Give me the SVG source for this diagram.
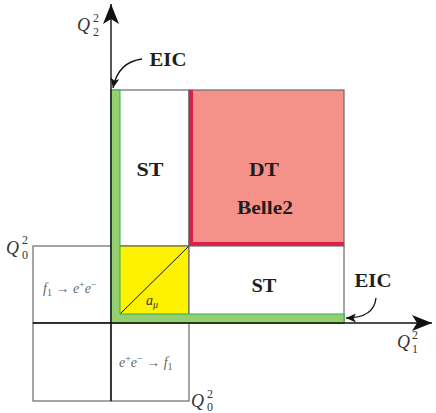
<svg xmlns="http://www.w3.org/2000/svg" width="436" height="413" viewBox="0 0 436 413">
<style>
.cell{fill:#ffffff;stroke:#6a6a6a;stroke-width:1.2}
.bold{font-family:"Liberation Serif",serif;font-weight:bold;font-size:19px;fill:#1e1e1e;text-anchor:middle}
.q{font-family:"Liberation Serif",serif;font-style:italic;font-size:18px;fill:#333}
.idx{font-family:"Liberation Serif",serif;font-size:12px;fill:#333}
.m{font-family:"Liberation Serif",serif;font-size:14px;fill:#666}
.it{font-style:italic}
.axis{stroke:#111;stroke-width:1.4;fill:none}
.curve{stroke:#111;stroke-width:1.3;fill:none}
</style>
<defs>
<marker id="big" markerUnits="userSpaceOnUse" markerWidth="20" markerHeight="16" refX="20" refY="8" orient="auto" viewBox="0 0 20 16">
<path d="M20,8 L0,0 L5,8 L0,16 Z" fill="#111"/>
</marker>
<marker id="small" markerUnits="userSpaceOnUse" markerWidth="10" markerHeight="9" refX="10" refY="4.5" orient="auto" viewBox="0 0 10 9">
<path d="M10,4.5 L0,0 L2.5,4.5 L0,9 Z" fill="#111"/>
</marker>
</defs>

<g id="cell-st-top">
<rect class="cell" x="111" y="90" width="78" height="156"/>
<text class="bold" x="150" y="176" textLength="27" lengthAdjust="spacingAndGlyphs">ST</text>
</g>
<g id="cell-dt">
<rect class="cell" x="189" y="90" width="155" height="156" style="fill:#f4928a"/>
<path d="M189,90 L193,90 L193,242 L344,242 L344,246 L189,246 Z" fill="#d8204c"/>
<text class="bold" x="264" y="176" textLength="30" lengthAdjust="spacingAndGlyphs">DT</text>
<text class="bold" x="265" y="214" textLength="56" lengthAdjust="spacingAndGlyphs">Belle2</text>
</g>
<g id="cell-amu">
<rect class="cell" x="111" y="246" width="78" height="77" style="fill:#fff200"/>
<line x1="120" y1="314" x2="189" y2="246" stroke="#111" stroke-width="1"/>
<text class="m" x="146" y="305" style="fill:#333"><tspan class="it">a</tspan><tspan class="it" font-size="10" dy="3">μ</tspan></text>
</g>
<g id="cell-st-bottom">
<rect class="cell" x="189" y="246" width="155" height="77"/>
<text class="bold" x="264" y="292" textLength="25" lengthAdjust="spacingAndGlyphs">ST</text>
</g>
<g id="cell-f1-ee">
<rect class="cell" x="33" y="246" width="78" height="77"/>
<text class="m" x="43" y="293"><tspan class="it">f</tspan><tspan font-size="10" dy="3">1</tspan><tspan dy="-3"> → </tspan><tspan class="it">e</tspan><tspan font-size="10" dy="-5">+</tspan><tspan class="it" dy="5">e</tspan><tspan font-size="10" dy="-5">−</tspan></text>
</g>
<g id="cell-empty">
<rect class="cell" x="33" y="323" width="78" height="78"/>
</g>
<g id="cell-ee-f1">
<rect class="cell" x="111" y="323" width="78" height="78"/>
<text class="m" x="119" y="367"><tspan class="it">e</tspan><tspan font-size="10" dy="-5">+</tspan><tspan class="it" dy="5">e</tspan><tspan font-size="10" dy="-5">−</tspan><tspan dy="5"> → </tspan><tspan class="it">f</tspan><tspan font-size="10" dy="3">1</tspan></text>
</g>
<g id="eic-band">
<path d="M111,90 L120,90 L120,314 L344,314 L344,323 L111,323 Z" fill="#95cf6f" stroke="#2fb050" stroke-width="1"/>
</g>
<g id="label-eic-top">
<text class="bold" x="168" y="66" textLength="37" lengthAdjust="spacingAndGlyphs">EIC</text>
</g>
<g id="label-eic-right">
<text class="bold" x="373" y="287" textLength="37" lengthAdjust="spacingAndGlyphs">EIC</text>
</g>
<g id="axis-labels">
<text x="77" y="31"><tspan class="q">Q</tspan></text>
<text class="idx" x="93" y="22">2</text>
<text class="idx" x="93" y="36">2</text>
<text x="397" y="348"><tspan class="q">Q</tspan></text>
<text class="idx" x="412" y="339">2</text>
<text class="idx" x="412" y="353">1</text>
<text x="191" y="407"><tspan class="q">Q</tspan></text>
<text class="idx" x="207" y="398">2</text>
<text class="idx" x="207" y="411">0</text>
<text x="6" y="254"><tspan class="q">Q</tspan></text>
<text class="idx" x="22" y="244">2</text>
<text class="idx" x="22" y="259">0</text>
</g>
<g id="connectors">
<line class="axis" x1="111" y1="401" x2="111" y2="4" marker-end="url(#big)"/>
<line class="axis" x1="33" y1="323" x2="432" y2="323" marker-end="url(#big)"/>
<path class="curve" d="M142,59 Q118,62 113,88" marker-end="url(#small)"/>
<path class="curve" d="M376,298 Q374,318 346,318" marker-end="url(#small)"/>
</g>
</svg>
